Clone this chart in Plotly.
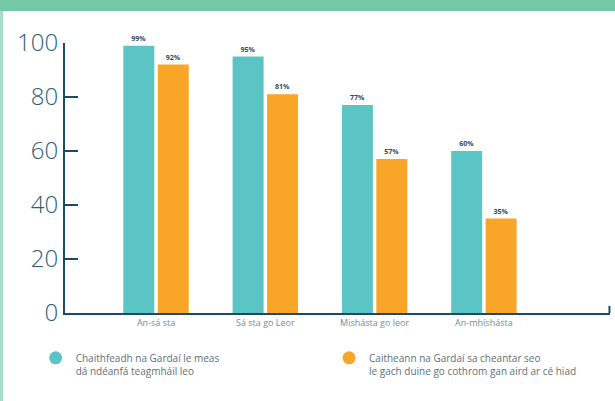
import plotly.graph_objects as go

categories = ["An-sá sta", "Sá sta go Leor", "Mishásta go leor", "An-mhíshásta"]
respect_values = [99, 95, 77, 60]
fair_values = [92, 81, 57, 35]
respect_name = "Chaithfeadh na Gardaí le meas<br>dá ndéanfá teagmháil leo"
fair_name = "Caitheann na Gardaí sa cheantar seo<br>le gach duine go cothrom gan aird ar cé hiad"
y_ticks = [0, 20, 40, 60, 80, 100]

TEAL = "#5BC5C6"
ORANGE = "#F9A628"
NAVY = "#1D4A66"
FONT = "Open Sans"

fig = go.Figure()

for values, color in [(respect_values, TEAL), (fair_values, ORANGE)]:
    fig.add_trace(go.Bar(
        x=categories, y=values, marker_color=color, marker_line_width=0,
        text=[f"{v}%" for v in values], textposition="outside",
        textfont=dict(family=FONT, size=7, color="#2C4A63", weight="bold"),
        cliponaxis=False, showlegend=False, hoverinfo="skip",
    ))

# legend entries with round markers, one legend box each
for name, color, leg in [(respect_name, TEAL, "legend"), (fair_name, ORANGE, "legend2")]:
    fig.add_trace(go.Scatter(
        x=[None], y=[None], mode="markers", name=name, legend=leg,
        marker=dict(symbol="circle", size=13, color=color),
    ))

legend_style = dict(
    orientation="h", xref="container", yref="container", xanchor="left",
    y=0.14, yanchor="top", itemwidth=30, valign="top",
    font=dict(size=10, color="#5F6F7A"), bgcolor="rgba(0,0,0,0)",
)

fig.update_layout(
    width=615, height=401,
    margin=dict(l=65, r=5, t=43, b=88, autoexpand=False),
    paper_bgcolor="white", plot_bgcolor="white",
    barmode="group", bargap=0.37, bargroupgap=0.1,
    font=dict(family=FONT, color="#5F6F7A"),
    legend=dict(x=0.058, **legend_style),
    legend2=dict(x=0.535, **legend_style),
    xaxis=dict(
        range=[-0.833, 4.154], showline=True, linecolor=NAVY, linewidth=2,
        ticks="", tickfont=dict(size=9, color="#7A8A95"), showgrid=False,
        zeroline=False, fixedrange=True,
    ),
    yaxis=dict(
        range=[0, 100], tickmode="array", tickvals=y_ticks, showline=True,
        linecolor=NAVY, linewidth=2, ticks="inside", ticklen=13, tickwidth=2,
        tickcolor=NAVY, tickfont=dict(size=24, color="#2E5E78", weight=300),
        showgrid=False, zeroline=False, fixedrange=True,
    ),
    shapes=[
        # top band
        dict(type="rect", xref="paper", yref="paper", xsizemode="pixel", ysizemode="pixel",
             xanchor=0, yanchor=1, x0=-65, x1=560, y0=43, y1=32,
             fillcolor="#74C8A8", line_width=0, layer="below"),
        # left border
        dict(type="rect", xref="paper", yref="paper", xsizemode="pixel", ysizemode="pixel",
             xanchor=0, yanchor=1, x0=-65, x1=-62, y0=-360, y1=32,
             fillcolor="#A6DDC6", line_width=0, layer="below"),
        # right end cap of x axis
        dict(type="line", xref="paper", yref="paper", ysizemode="pixel", yanchor=0,
             x0=0.999, x1=0.999, y0=0, y1=7, line=dict(color=NAVY, width=2)),
    ],
)

fig.write_html("out.html", config={"displayModeBar": False},
               post_script="document.body.style.margin='0';")
